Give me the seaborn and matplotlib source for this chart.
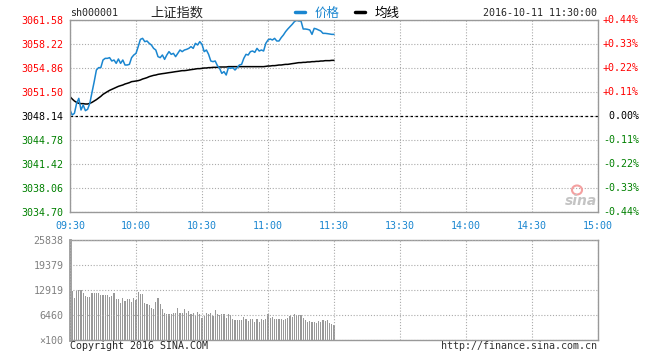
import numpy as np
import pandas as pd
import matplotlib
matplotlib.use("Agg")
import matplotlib.pyplot as plt
import seaborn as sns
from matplotlib.lines import Line2D
from matplotlib.patches import Ellipse
from matplotlib.transforms import blended_transform_factory

# ---------------- data ----------------
price = [
    3048.98, 3048.28, 3048.51, 3049.91, 3050.61, 3048.98, 3049.68, 3048.89, 3049.07, 3049.91,
    3051.45, 3052.95, 3054.58, 3054.91, 3054.91, 3055.98, 3056.21, 3056.21, 3056.31, 3055.84,
    3055.98, 3055.51, 3056.12, 3055.51, 3055.98, 3055.28, 3055.28, 3055.37, 3056.31, 3056.68,
    3056.91, 3057.85, 3058.87, 3059.01, 3058.55, 3058.64, 3058.31, 3058.08, 3057.61, 3057.38,
    3056.45, 3056.31, 3056.68, 3056.07, 3056.68, 3057.15, 3056.77, 3056.91, 3056.45, 3056.91,
    3057.38, 3057.15, 3057.38, 3057.47, 3057.61, 3057.85, 3057.61, 3058.31, 3058.08, 3058.55,
    3058.17, 3057.15, 3057.38, 3056.77, 3055.84, 3055.75, 3055.84, 3055.19, 3054.81, 3054.11,
    3054.35, 3053.88, 3054.91, 3054.81, 3054.91, 3054.58, 3054.91, 3055.28, 3055.37, 3056.21,
    3056.77, 3056.68, 3057.15, 3057.24, 3057.05, 3057.61, 3057.24, 3057.38, 3057.24, 3058.31,
    3058.78, 3058.92, 3058.78, 3059.01, 3058.64, 3058.64, 3059.11, 3059.48, 3059.95, 3060.32,
    3060.65, 3060.97, 3061.35, 3061.53, 3061.44, 3061.44, 3060.32, 3060.32, 3060.27, 3060.18,
    3059.57, 3060.41, 3060.32, 3060.18, 3060.04, 3059.71, 3059.71, 3059.67, 3059.62, 3059.57,
    3059.57,
]
avg_price = [
    3050.85, 3050.52, 3050.24, 3050.05, 3049.91, 3049.87, 3049.87, 3049.82, 3049.82, 3049.91,
    3050.05, 3050.24, 3050.43, 3050.66, 3050.89, 3051.17, 3051.36, 3051.55, 3051.73, 3051.87,
    3052.01, 3052.15, 3052.29, 3052.39, 3052.48, 3052.62, 3052.71, 3052.81, 3052.95, 3052.99,
    3053.04, 3053.09, 3053.18, 3053.32, 3053.41, 3053.51, 3053.65, 3053.74, 3053.83, 3053.88,
    3053.97, 3054.02, 3054.07, 3054.11, 3054.16, 3054.21, 3054.25, 3054.30, 3054.35, 3054.39,
    3054.44, 3054.49, 3054.49, 3054.53, 3054.58, 3054.63, 3054.67, 3054.72, 3054.77, 3054.77,
    3054.81, 3054.86, 3054.86, 3054.91, 3054.91, 3054.95, 3054.95, 3054.95, 3055.00, 3055.00,
    3055.00, 3055.00, 3055.05, 3055.05, 3055.05, 3055.05, 3055.05, 3055.05, 3055.05, 3055.05,
    3055.05, 3055.05, 3055.05, 3055.05, 3055.05, 3055.05, 3055.05, 3055.05, 3055.05, 3055.09,
    3055.14, 3055.14, 3055.19, 3055.19, 3055.23, 3055.28, 3055.28, 3055.33, 3055.37, 3055.37,
    3055.42, 3055.47, 3055.51, 3055.56, 3055.61, 3055.61, 3055.65, 3055.65, 3055.70, 3055.70,
    3055.75, 3055.75, 3055.79, 3055.79, 3055.84, 3055.84, 3055.89, 3055.89, 3055.89, 3055.93,
    3055.93,
]
# volume in units of 100 lots, one bar per minute (09:31 .. 11:30)
volume = [
    12661, 10939, 12661, 12833, 12833, 12058, 11369, 11197, 11197, 12230,
    12058, 12230, 12230, 11628, 11628, 11628, 11628, 11197, 11369, 12058,
    10594, 10594, 9647, 10766, 10163, 10594, 10594, 9905, 10766, 10336,
    12403, 11886, 11886, 9647, 9302, 9044, 8182, 7924, 9905, 10766,
    9302, 7924, 7063, 6632, 6632, 6632, 7063, 7063, 8268, 7063,
    7063, 7924, 7063, 7407, 6632, 6890, 6201, 7235, 6632, 5598,
    6201, 6890, 6632, 6890, 6201, 7752, 6632, 6460, 6632, 6632,
    5771, 6632, 6546, 5340, 5168, 5168, 5168, 5168, 5857, 5340,
    4996, 5340, 5340, 4737, 5340, 4651, 5340, 5168, 5340, 6718,
    5771, 6029, 5340, 5340, 5340, 5340, 5168, 5340, 5598, 6201,
    5857, 6632, 6460, 6460, 6460, 5598, 5168, 4651, 4909, 4737,
    4565, 4479, 4909, 4565, 5168, 4909, 5168, 4306, 4134, 3962,
]
price_ticks = [3061.58, 3058.22, 3054.86, 3051.50, 3048.14, 3044.78, 3041.42, 3038.06, 3034.70]
pct_labels = ["+0.44%", "+0.33%", "+0.22%", "+0.11%", " 0.00%", "-0.11%", "-0.22%", "-0.33%", "-0.44%"]
time_labels = ["09:30", "10:00", "10:30", "11:00", "11:30", "13:30", "14:00", "14:30", "15:00"]
vol_ticks = [25838, 19379, 12919, 6460, 0]
vol_labels = ["25838", "19379", "12919", "6460", "×100"]
prev_close = 3048.14

# ---------------- style ----------------
sns.set_style("white")
plt.rcParams['font.family'] = ['DejaVu Sans Mono', 'Noto Sans CJK SC']
MONO = 7.2
RED, GREEN, BLUE, GREY = '#ff0000', '#008000', '#1a86d0', '#999999'
dot = (0, (1, 1.6))

W, H = 660, 360
fig = plt.figure(figsize=(W / 100, H / 100), dpi=100)
fig.patch.set_facecolor('white')

def fx(px):
    return px / W

def fy(py):
    return 1 - py / H

ax = fig.add_axes([fx(70), fy(212), (598 - 70) / W, (212 - 20) / H])
axv = fig.add_axes([fx(70), fy(340), (598 - 70) / W, (340 - 240) / H])

t = np.arange(len(price))
df = pd.DataFrame({'t': t, 'price': price, 'avg': avg_price})
sns.lineplot(data=df, x='t', y='avg', ax=ax, color='black', lw=1.1, legend=False)
sns.lineplot(data=df, x='t', y='price', ax=ax, color=BLUE, lw=1.1, legend=False)

ax.set_xlim(0, 240)
ax.set_ylim(price_ticks[-1], price_ticks[0])
ax.set_xticks(range(0, 241, 30))
ax.set_xticklabels(time_labels, color=BLUE, fontsize=MONO)
ax.set_yticks(price_ticks)
ax.set_yticklabels([f"{p:.2f}" for p in price_ticks], fontsize=MONO)
for lab, p in zip(ax.get_yticklabels(), price_ticks):
    lab.set_color(RED if p > prev_close + 1e-6 else (GREEN if p < prev_close - 1e-6 else 'black'))
ax.tick_params(axis='both', length=0)
ax.tick_params(axis='y', pad=4.5)
ax.tick_params(axis='x', pad=6.5)
ax.grid(True, linestyle=dot, color='#aaaaaa', lw=0.8)
ax.axhline(prev_close, color='black', lw=0.9, ls=(0, (2, 2)), zorder=1.5)
ax.set_xlabel('')
ax.set_ylabel('')
for s in ax.spines.values():
    s.set_color(GREY)
    s.set_linewidth(1.0)

tr = blended_transform_factory(ax.transAxes, ax.transData)
for p, lab in zip(price_ticks, pct_labels):
    col = RED if p > prev_close + 1e-6 else (GREEN if p < prev_close - 1e-6 else 'black')
    ax.text(1 + 5 / 528, p, lab, transform=tr, ha='left', va='center',
            fontsize=MONO, color=col)

# ---------------- volume ----------------
vt = np.arange(1, len(volume) + 1)
dv = pd.DataFrame({'t': vt, 'vol': volume})
sns.barplot(data=dv, x='t', y='vol', ax=axv, native_scale=True, color=GREY,
            saturation=1, width=0.5, errorbar=None, linewidth=0)
axv.set_xlim(0, 240)
axv.set_ylim(0, vol_ticks[0])
axv.set_xticks(range(0, 241, 30))
axv.set_xticklabels([])
axv.set_yticks(vol_ticks)
axv.set_yticklabels(vol_labels, fontsize=MONO, color='#808080')
axv.tick_params(axis='both', length=0)
axv.tick_params(axis='y', pad=4.5)
axv.grid(True, linestyle=dot, color='#aaaaaa', lw=0.8)
axv.set_axisbelow(False)
axv.set_xlabel('')
axv.set_ylabel('')
for s in axv.spines.values():
    s.set_color(GREY)
    s.set_linewidth(1.0)
axv.spines['left'].set_linewidth(2.0)

# ---------------- header / footer ----------------
fig.text(fx(70), fy(13), "sh000001", fontsize=MONO, ha='left', va='center')
fig.text(fx(177), fy(13), "上证指数", fontsize=9.5, ha='center', va='center',
         family=['Noto Sans CJK SC', 'DejaVu Sans'])
fig.add_artist(Line2D([fx(295), fx(305)], [fy(12), fy(12)], color=BLUE, lw=2.5))
fig.text(fx(315), fy(13), "价格", fontsize=9, ha='left', va='center', color=BLUE,
         family=['Noto Sans CJK SC', 'DejaVu Sans'])
fig.add_artist(Line2D([fx(355), fx(365)], [fy(12), fy(12)], color='black', lw=2.5))
fig.text(fx(375), fy(13), "均线", fontsize=9, ha='left', va='center', color='black',
         family=['Noto Sans CJK SC', 'DejaVu Sans'])
fig.text(fx(597), fy(13), "2016-10-11 11:30:00", fontsize=MONO, ha='right', va='center')

fig.text(fx(70), fy(346), "Copyright 2016 SINA.COM", fontsize=MONO, ha='left', va='center')
fig.text(fx(597), fy(346), "http://finance.sina.com.cn", fontsize=MONO, ha='right',
         va='center', color='#333333')

# watermark
fig.add_artist(Ellipse((fx(577), fy(190)), 10 / W, 9 / H, fill=False,
                       edgecolor='#f4a0a0', lw=1.5))
fig.text(fx(581), fy(201), "sina", fontsize=10, ha='center', va='center',
         color='#c4c4c4', style='italic', weight='bold', family='DejaVu Sans')

fig.savefig("out.png", dpi=100)
